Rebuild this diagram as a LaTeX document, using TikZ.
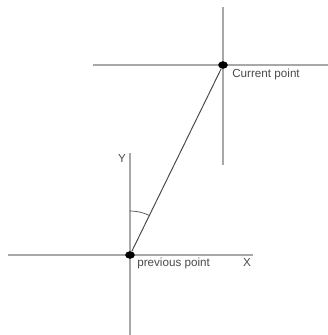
\documentclass[tikz,border=0pt]{standalone}
\usepackage{fontspec}
\setsansfont{Liberation Sans}
\usepackage{xcolor}
\usetikzlibrary{positioning,shapes.geometric}
\definecolor{axisline}{HTML}{A8A8A8}
\definecolor{soft}{HTML}{4A4A4A}

\begin{document}
\begin{tikzpicture}[
  x=0.025cm,y=0.025cm,
  font=\sffamily\fontsize{8.3}{10}\selectfont,
  dot/.style={ellipse,fill=black,draw=none,inner sep=0pt,
              minimum width=2.4mm,minimum height=1.9mm},
  axis/.style={axisline,line width=0.8pt},
  lbl/.style={soft,inner sep=0pt},
  lnk/.style={soft,line width=0.7pt}
]
\useasboundingbox (0,0) rectangle (328,335);
% axis ends
\coordinate (prevL) at (8,80);
\coordinate (prevR) at (253,80);
\coordinate (prevT) at (130,182);
\coordinate (prevB) at (130,0);
\coordinate (curL)  at (93,270);
\coordinate (curR)  at (328,270);
\coordinate (curT)  at (223,328);
\coordinate (curB)  at (223,170);

\draw[axis] (prevL) -- (prevR);
\draw[axis] (prevT) -- (prevB);
\draw[axis] (curL) -- (curR);
\draw[axis] (curT) -- (curB);

% the two points
\node[dot] (prev) at (130,80) {};
\node[dot] (cur)  at (223,270) {};

% the segment and its angle to Y
\draw[lnk] (prev) -- (cur);
\draw[soft,line width=0.5pt] ([shift={(90:1.1cm)}]prev.center) arc[start angle=90,end angle=64,radius=1.1cm];

% labels
\node[lbl,anchor=west] (prevtxt) at (137,72) {previous point};
\node[lbl,anchor=west] (curtxt)  at (232,261) {Current point};
\node[lbl] (xlbl) at (247,73) {X};
\node[lbl] (ylbl) at (122,177) {Y};
\end{tikzpicture}
\end{document}
